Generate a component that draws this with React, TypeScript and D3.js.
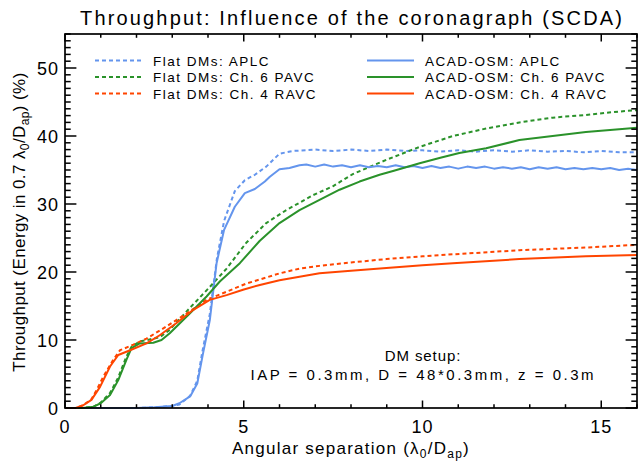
import React from "react";
import * as d3 from "d3";

type Pt = [number, number];

const flatAPLC: Pt[] = [
  [0, 0], [1, 0], [2, 0], [2.5, 0.1], [3, 0.3], [3.2, 0.5], [3.5, 1.8], [3.7, 4], [3.85, 8.5],
  [4.05, 13.8], [4.25, 22], [4.45, 27.5], [4.75, 31.9], [5.03, 33.5], [5.31, 34.3], [5.63, 35.5],
  [6.0, 37.4], [6.37, 37.8], [6.75, 37.9], [7, 38.0], [7.5, 37.8], [8, 38.0], [8.5, 37.8],
  [9, 38.0], [9.5, 37.8], [10, 37.9], [10.5, 37.7], [11, 37.9], [11.5, 37.7], [12, 37.9],
  [12.5, 37.7], [13, 37.9], [13.5, 37.7], [14, 37.8], [14.5, 37.6], [15, 37.8], [15.5, 37.6], [16, 37.6],
];
const flatPAVC: Pt[] = [
  [0, 0], [0.5, 0], [0.8, 0.2], [1.0, 0.8], [1.26, 2.2], [1.49, 4.5], [1.72, 7.6], [1.86, 9.0],
  [2.09, 9.8], [2.3, 10.0], [2.65, 10.4], [2.93, 11.5], [3.49, 14.7], [4.05, 17.8], [4.52, 20.5],
  [5.07, 24.3], [5.63, 27.2], [6.19, 29.1], [6.94, 31.3], [7.49, 32.6], [8.05, 34.4], [8.99, 36.5],
  [9.92, 38.4], [10.85, 40.0], [11.78, 41.1], [12.71, 42.0], [13.64, 42.7], [14.57, 43.1],
  [15.5, 43.6], [16, 43.8],
];
const flatRAVC: Pt[] = [
  [0, 0], [0.3, 0], [0.51, 0.4], [0.74, 1.3], [0.9, 2.8], [1.07, 4.6], [1.35, 7.1], [1.54, 8.5],
  [1.91, 9.3], [2.28, 10.2], [2.84, 12.0], [3.4, 13.9], [3.96, 15.9], [4.52, 17.1], [5.07, 18.3],
  [5.45, 18.9], [6.0, 19.8], [6.56, 20.5], [7.12, 20.9], [8.0, 21.4], [8.99, 21.9], [10.0, 22.3],
  [10.85, 22.6], [12.71, 23.2], [14.57, 23.6], [16, 24.0],
];
const acadAPLC: Pt[] = [
  [0, 0], [1, 0], [2, 0], [2.5, 0.1], [3, 0.3], [3.2, 0.7], [3.5, 1.7], [3.7, 3.6], [3.86, 8],
  [4.05, 12.9], [4.24, 21.3], [4.45, 26.2], [4.75, 29.6], [5.03, 31.6], [5.31, 32.2], [5.59, 33.3],
  [5.73, 34.0], [6.0, 35.1], [6.28, 35.3], [6.56, 35.7], [6.75, 35.8], [7, 35.5], [7.25, 35.8],
  [7.5, 35.5], [7.75, 35.7], [8, 35.4], [8.25, 35.7], [8.5, 35.4], [8.75, 35.6], [9, 35.4],
  [9.25, 35.7], [9.5, 35.4], [9.75, 35.6], [10, 35.3], [10.25, 35.6], [10.5, 35.3], [10.75, 35.5],
  [11, 35.2], [11.25, 35.5], [11.5, 35.3], [11.75, 35.5], [12, 35.2], [12.25, 35.4], [12.5, 35.2],
  [12.75, 35.4], [13, 35.1], [13.25, 35.4], [13.5, 35.2], [13.75, 35.4], [14, 35.1], [14.25, 35.3],
  [14.5, 35.1], [14.75, 35.3], [15, 35.1], [15.25, 35.3], [15.5, 35.0], [15.75, 35.2], [16, 35.0],
];
const acadPAVC: Pt[] = [
  [0, 0], [0.5, 0], [0.8, 0.2], [1.0, 0.7], [1.26, 1.9], [1.49, 4.1], [1.72, 7.1], [1.86, 8.8],
  [2.09, 9.5], [2.47, 9.6], [2.7, 10.0], [2.93, 11.0], [3.49, 13.9], [3.96, 16.4], [4.33, 18.6],
  [4.89, 21.3], [5.45, 24.6], [6.0, 27.2], [6.56, 29.1], [7.12, 30.6], [7.68, 32.1], [8.24, 33.3],
  [8.8, 34.3], [9.2, 34.9], [9.92, 36.0], [10.5, 36.8], [11.03, 37.5], [11.78, 38.2], [12.71, 39.4],
  [13.64, 40.0], [14.57, 40.6], [15.5, 41.0], [16, 41.2],
];
const acadRAVC: Pt[] = [
  [0, 0], [0.3, 0], [0.51, 0.4], [0.74, 1.2], [0.98, 3.1], [1.26, 6.1], [1.49, 7.8], [1.82, 8.5],
  [2.28, 9.5], [2.65, 10.7], [3.12, 12.5], [3.58, 14.4], [4.05, 15.9], [4.52, 16.6], [4.98, 17.4],
  [5.45, 18.1], [6.0, 18.8], [6.56, 19.3], [7.12, 19.8], [8.0, 20.2], [8.99, 20.6], [10.0, 21.0],
  [10.85, 21.3], [12.71, 21.9], [14.57, 22.3], [16, 22.5],
];

const xMajorTicks = [0, 5, 10, 15];
const yMajorTicks = [0, 10, 20, 30, 40, 50];

const BLUE = "#6495ED";
const GREEN = "#2A922A";
const ORANGE = "#FF4500";

const series = [
  { label: "Flat DMs: APLC", data: flatAPLC, color: BLUE, dashed: true },
  { label: "Flat DMs: Ch. 6 PAVC", data: flatPAVC, color: GREEN, dashed: true },
  { label: "Flat DMs: Ch. 4 RAVC", data: flatRAVC, color: ORANGE, dashed: true },
  { label: "ACAD-OSM: APLC", data: acadAPLC, color: BLUE, dashed: false },
  { label: "ACAD-OSM: Ch. 6 PAVC", data: acadPAVC, color: GREEN, dashed: false },
  { label: "ACAD-OSM: Ch. 4 RAVC", data: acadRAVC, color: ORANGE, dashed: false },
];

const W = 639, H = 461;
const L = 65, R = 637, T = 34, B = 408;
const FONT = "'Liberation Sans', Arial, sans-serif";

export default function App() {
  const x = d3.scaleLinear().domain([0, 16]).range([L, R]);
  const y = d3.scaleLinear().domain([0, 55]).range([B, T]);
  const line = d3.line<Pt>().x((d) => x(d[0])).y((d) => y(d[1]));

  const xMinor = d3.range(0, 17, 1);
  const yMinor = d3.range(0, 56, 1);
  const xMajLen = 7.5, xMinLen = 3.8, yMajLen = 11.4, yMinLen = 5.7;

  return (
    <svg width={W} height={H} style={{ position: "absolute", left: 0, top: 0, background: "#fff" }}
      xmlns="http://www.w3.org/2000/svg">
      <rect x={0} y={0} width={W} height={H} fill="#fff" />
      <defs>
        <clipPath id="plotclip">
          <rect x={L} y={T - 1} width={R - L} height={B - T + 3} />
        </clipPath>
      </defs>
      <g clipPath="url(#plotclip)">
        {series.map((s, i) => (
          <path key={i} d={line(s.data) || ""} fill="none" stroke={s.color} strokeWidth={2}
            strokeDasharray={s.dashed ? "4,3" : undefined} strokeLinejoin="round" />
        ))}
      </g>
      <rect x={L} y={T} width={R - L} height={B - T} fill="none" stroke="#000" strokeWidth={1.7} />
      {xMinor.map((v) => {
        const maj = xMajorTicks.includes(v);
        const len = maj ? xMajLen : xMinLen;
        return (
          <g key={"xt" + v}>
            <line x1={x(v)} x2={x(v)} y1={B} y2={B - len} stroke="#000" strokeWidth={1.5} />
            <line x1={x(v)} x2={x(v)} y1={T} y2={T + len} stroke="#000" strokeWidth={1.5} />
          </g>
        );
      })}
      {yMinor.map((v) => {
        const maj = yMajorTicks.includes(v);
        const len = maj ? yMajLen : yMinLen;
        return (
          <g key={"yt" + v}>
            <line x1={L} x2={L + len} y1={y(v)} y2={y(v)} stroke="#000" strokeWidth={1.5} />
            <line x1={R} x2={R - len} y1={y(v)} y2={y(v)} stroke="#000" strokeWidth={1.5} />
          </g>
        );
      })}
      {xMajorTicks.map((v) => (
        <text key={"xl" + v} x={x(v)} y={433} textAnchor="middle" fontFamily={FONT} fontSize={18}
          letterSpacing={1}>
          {v}
        </text>
      ))}
      {yMajorTicks.map((v) => (
        <text key={"yl" + v} x={59} y={y(v) + 6.5} textAnchor="end" fontFamily={FONT} fontSize={18}
          letterSpacing={1}>
          {v}
        </text>
      ))}
      <text x={351} y={25} textAnchor="middle" fontFamily={FONT} fontSize={20} textLength={542}
        lengthAdjust="spacing">
        Throughput: Influence of the coronagraph (SCDA)
      </text>
      <text x={351} y={454} textAnchor="middle" fontFamily={FONT} fontSize={17} letterSpacing={1.25}>
        Angular separation (λ<tspan fontSize={12} dy={4}>0</tspan>
        <tspan dy={-4}>/D</tspan>
        <tspan fontSize={12} dy={4}>ap</tspan>
        <tspan dy={-4}>)</tspan>
      </text>
      <text transform={`translate(25,222) rotate(-90)`} textAnchor="middle" fontFamily={FONT} fontSize={17}
        letterSpacing={0.4}>
        Throughput (Energy in 0.7 λ<tspan fontSize={12} dy={4}>0</tspan>
        <tspan dy={-4}>/D</tspan>
        <tspan fontSize={12} dy={4}>ap</tspan>
        <tspan dy={-4}>) (%)</tspan>
      </text>
      {series.map((s, i) => {
        const col = i < 3 ? 0 : 1;
        const row = i % 3;
        const x1 = col === 0 ? 95 : 367;
        const x2 = col === 0 ? 143 : 414;
        const tx = col === 0 ? 153 : 425;
        const ly = 60.5 + row * 16.5;
        return (
          <g key={"lg" + i}>
            <line x1={x1} x2={x2} y1={ly} y2={ly} stroke={s.color} strokeWidth={2}
              strokeDasharray={s.dashed ? "4,3" : undefined} />
            <text x={tx} y={ly + 5} fontFamily={FONT} fontSize={13.5} letterSpacing={1.5}>{s.label}</text>
          </g>
        );
      })}
      <text x={423} y={361} textAnchor="middle" fontFamily={FONT} fontSize={15} letterSpacing={0.9}>
        DM setup:
      </text>
      <text x={422} y={380} textAnchor="middle" fontFamily={FONT} fontSize={15} textLength={343}
        lengthAdjust="spacing">
        IAP = 0.3mm, D = 48*0.3mm, z = 0.3m
      </text>
    </svg>
  );
}
